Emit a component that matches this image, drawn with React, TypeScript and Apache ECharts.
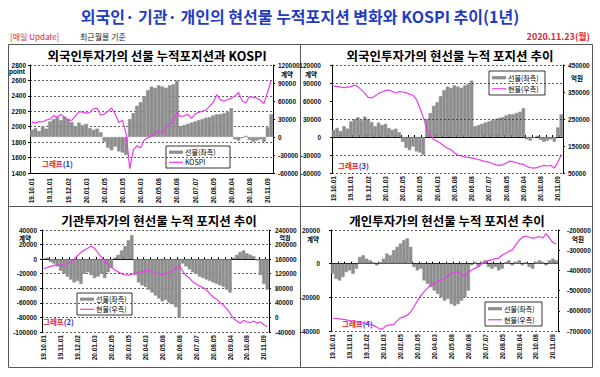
import React, { useEffect, useRef } from 'react';
import * as echarts from 'echarts';

const dates = [
  '19.10.01', '19.10.08', '19.10.14', '19.10.18', '19.10.25',
  '19.11.01', '19.11.07', '19.11.13', '19.11.19', '19.11.25',
  '19.12.02', '19.12.06', '19.12.12', '19.12.18', '19.12.24',
  '20.01.03', '20.01.09', '20.01.15', '20.01.21', '20.01.30',
  '20.02.05', '20.02.11', '20.02.17', '20.02.21', '20.02.27',
  '20.03.05', '20.03.11', '20.03.19', '20.03.25', '20.03.31',
  '20.04.03', '20.04.09', '20.04.16', '20.04.22', '20.04.28',
  '20.05.08', '20.05.14', '20.05.20', '20.05.26', '20.06.01',
  '20.06.08', '20.06.12', '20.06.18', '20.06.24', '20.06.30',
  '20.07.07', '20.07.13', '20.07.17', '20.07.23', '20.07.29',
  '20.08.05', '20.08.11', '20.08.18', '20.08.24', '20.08.28',
  '20.09.04', '20.09.10', '20.09.16', '20.09.22', '20.09.28',
  '20.10.08', '20.10.14', '20.10.20', '20.10.26', '20.11.02',
  '20.11.09', '20.11.23',
];

const tickLabels = [
  '19.10.01', '19.11.01', '19.12.02', '20.01.03', '20.02.05', '20.03.05', '20.04.03',
  '20.05.08', '20.06.08', '20.07.07', '20.08.05', '20.09.04', '20.10.08', '20.11.09',
];

// 외국인 선물 누적 (계약)
const foreignFutures = [
  12000, 15000, 10000, 18000, 14000,
  26000, 30000, 33000, 28000, 34000,
  30000, 25000, 18000, 24000, 20000,
  22000, 15000, 12000, 14000, 8000,
  -8000, -18000, -22000, -16000, -24000,
  -26000, -30000, 30000, 40000, 52000,
  58000, 68000, 78000, 84000, 82000,
  86000, 84000, 82000, 86000, 88000,
  94000, 18000, 20000, 22000, 24000,
  26000, 28000, 30000, 32000, 33000,
  36000, 38000, 38000, 40000, 42000,
  48000, -4000, -6000, -2000, 2000,
  -5000, -8000, -6000, -4000, -8000,
  16000, 38000,
];

// KOSPI (point)
const kospi = [
  2063, 2046, 2067, 2061, 2086,
  2100, 2144, 2122, 2160, 2122,
  2091, 2081, 2137, 2195, 2190,
  2176, 2186, 2231, 2239, 2148,
  2165, 2201, 2242, 2162, 2054,
  2085, 1908, 1457, 1704, 1754,
  1725, 1827, 1857, 1879, 1922,
  1945, 1924, 1989, 2029, 2065,
  2184, 2132, 2141, 2161, 2108,
  2164, 2186, 2201, 2216, 2263,
  2311, 2418, 2348, 2330, 2353,
  2368, 2397, 2443, 2333, 2308,
  2391, 2380, 2370, 2343, 2300,
  2447, 2602,
];

// 외국인 현물 누적 (억원)
const foreignSpot = [
  372000, 370000, 368000, 366000, 368000,
  370000, 376000, 370000, 358000, 345000,
  330000, 328000, 335000, 345000, 350000,
  355000, 358000, 352000, 346000, 352000,
  350000, 348000, 342000, 338000, 322000,
  290000, 255000, 215000, 190000, 175000,
  168000, 160000, 150000, 142000, 136000,
  125000, 116000, 113000, 110000, 108000,
  106000, 103000, 100000, 96000, 92000,
  90000, 86000, 80000, 78000, 80000,
  86000, 94000, 92000, 88000, 84000,
  82000, 74000, 70000, 68000, 70000,
  75000, 78000, 76000, 78000, 68000,
  90000, 118000,
];

// 기관 선물 누적 (계약)
const instFutures = [
  1000, 2000, -4000, -6000, -10000,
  -16000, -20000, -24000, -28000, -32000,
  -30000, -34000, -20000, -18000, -22000,
  -26000, -24000, -20000, -26000, -18000,
  -12000, 2000, 6000, 12000, 18000,
  26000, 33000, -22000, -32000, -36000,
  -38000, -42000, -46000, -50000, -54000,
  -58000, -56000, -60000, -62000, -66000,
  -80000, -6000, -10000, -14000, -18000,
  -20000, -24000, -26000, -28000, -30000,
  -32000, -34000, -36000, -38000, -42000,
  -46000, 2000, 6000, 10000, 12000,
  8000, 6000, 4000, -2000, -22000,
  -34000, -42000,
];

// 기관 현물 누적 (억원)
const instSpot = [
  134000, 137000, 140000, 143000, 144000,
  143000, 144000, 148000, 152000, 160000,
  170000, 178000, 185000, 190000, 196000,
  190000, 178000, 165000, 156000, 144000,
  138000, 130000, 125000, 120000, 117000,
  116000, 118000, 122000, 124000, 125000,
  128000, 130000, 126000, 122000, 120000,
  118000, 120000, 124000, 128000, 134000,
  143000, 128000, 115000, 108000, 98000,
  92000, 86000, 82000, 76000, 66000,
  56000, 50000, 42000, 34000, 24000,
  12000, -3000, -10000, -16000, -8000,
  -12000, -14000, -10000, -16000, -12000,
  -20000, -26000,
];

// 개인 선물 누적 (계약)
const indivFutures = [
  -6000, -9000, -10000, -8000, -5000,
  -4000, -6000, -3000, 4000, 5000,
  3000, 2000, 1000, -1000, 1000,
  3000, 6000, 5000, 8000, 10000,
  12000, 14000, 15000, 10000, -2000,
  -4000, -3000, -10000, -12000, -14000,
  -16000, -18000, -20000, -22000, -21000,
  -24000, -25000, -24000, -22000, -20000,
  -16000, -1000, 1000, -2000, 1000,
  2000, -2000, -3000, -2000, -4000,
  -3000, 1000, 2000, -1000, 1000,
  2000, -1000, 1000, -2000, -3000,
  1000, 2000, 1000, -1000, 2000,
  3000, 2000,
];

// 개인 현물 누적 (억원)
const indivSpot = [
  -637000, -638000, -640000, -642000, -645000,
  -648000, -650000, -654000, -658000, -660000,
  -662000, -668000, -672000, -680000, -692000,
  -685000, -672000, -670000, -668000, -650000,
  -635000, -630000, -622000, -605000, -580000,
  -550000, -525000, -505000, -488000, -472000,
  -465000, -455000, -448000, -440000, -428000,
  -415000, -410000, -406000, -418000, -432000,
  -410000, -398000, -390000, -380000, -368000,
  -357000, -350000, -348000, -342000, -340000,
  -325000, -315000, -306000, -298000, -275000,
  -252000, -235000, -230000, -236000, -240000,
  -238000, -232000, -240000, -218000, -240000,
  -262000, -269000,
];

const panel2RightLabels = [50000, 150000, 250000, 350000, 450000];
const panel2GridLevels = [120000, 90000, 30000, -30000, -60000];

const KR = "'Noto Sans CJK KR', sans-serif";
const NUM = "'Liberation Sans', Arial, sans-serif";
const BAR = '#8e8e8e';
const LINE = '#ea3cea';

function labelAxis(gridIndex: number, showLine: boolean, margin: number) {
  return {
    type: 'category', gridIndex, data: dates, position: 'bottom', boundaryGap: true,
    axisLine: { show: showLine, onZero: false, lineStyle: { color: '#000', width: 1 } },
    axisTick: { show: false },
    axisLabel: {
      rotate: 90, margin, fontSize: 6.5, fontWeight: 'bold', color: '#111', fontFamily: NUM,
      interval: (_i: number, v: string) => tickLabels.includes(v),
    },
    splitLine: { show: false },
  };
}

function zeroAxis(gridIndex: number) {
  return {
    type: 'category', gridIndex, data: dates, position: 'bottom', boundaryGap: true,
    axisLine: { show: true, onZero: true, lineStyle: { color: '#000', width: 1 } },
    axisTick: { show: true, inside: true, length: 2, interval: 1, lineStyle: { color: '#000' } },
    axisLabel: { show: false },
    splitLine: { show: false },
  };
}

function yAxisDef(gridIndex: number, position: string, min: number, max: number, interval: number | undefined, margin: number, split: boolean, custom?: number[]) {
  const label: any = { fontSize: 6.5, fontWeight: 'bold', color: '#111', margin, fontFamily: NUM, formatter: (v: number) => String(v) };
  const tick: any = { show: true, length: 2, lineStyle: { color: '#000' } };
  if (custom) { label.customValues = custom; tick.customValues = custom; }
  const ax: any = {
    type: 'value', gridIndex, position, min, max,
    axisLine: { show: true, lineStyle: { color: '#000', width: 1 } },
    axisTick: tick,
    axisLabel: label,
    splitLine: { show: split, lineStyle: { type: [2, 2], color: '#333', width: 0.8 } },
  };
  if (interval !== undefined) ax.interval = interval;
  return ax;
}

function txt(x: number, y: number, text: string, size: number, opts: any = {}) {
  return {
    type: 'text', x, y, silent: true,
    style: {
      text, fill: opts.fill || '#000', fontSize: size, fontWeight: opts.weight || 'normal',
      fontFamily: opts.font || KR,
      textAlign: opts.align || 'left', align: opts.align || 'left',
      textVerticalAlign: 'middle', verticalAlign: 'middle',
    },
  };
}

function legendBox(x: number, y: number, w: number, h: number, second: string) {
  const y1 = y + h * 0.28;
  const y2 = y + h * 0.74;
  return [
    { type: 'rect', silent: true, shape: { x, y, width: w, height: h }, style: { fill: '#fff', stroke: '#000', lineWidth: 0.8 } },
    { type: 'rect', silent: true, shape: { x: x + 3, y: y1 - 1.6, width: 14, height: 3.2 }, style: { fill: BAR } },
    txt(x + 19, y1, '선물(좌측)', 7),
    { type: 'line', silent: true, shape: { x1: x + 3, y1: y2, x2: x + 17, y2: y2 }, style: { stroke: LINE, lineWidth: 1.2 } },
    txt(x + 19, y2, second, 7),
  ];
}

function graphLabel(x: number, y: number, n: string) {
  return {
    type: 'text', x, y, silent: true,
    style: {
      text: '{r|그래프}{b|(' + n + ')}',
      textVerticalAlign: 'middle', verticalAlign: 'middle',
      rich: {
        r: { fill: '#e8202a', color: '#e8202a', fontSize: 7.5, fontWeight: 'bold', fontFamily: KR },
        b: { fill: '#2233cc', color: '#2233cc', fontSize: 7.5, fontWeight: 'bold', fontFamily: KR },
      },
    },
  };
}

const barStyle = { color: BAR, borderColor: BAR, borderWidth: 0.6 };

export default function App() {
  const ref = useRef<HTMLDivElement>(null);
  useEffect(() => {
    if (!ref.current) return;
    const chart = echarts.init(ref.current, undefined, { renderer: 'svg' });
    const gridLevels = panel2GridLevels.map((v) => ({ yAxis: v }));
    const option: any = {
      animation: false,
      backgroundColor: '#fff',
      textStyle: { fontFamily: NUM },
      grid: [
        { left: 30, top: 65, width: 243, height: 108 },
        { left: 332, top: 65, width: 231, height: 108 },
        { left: 42, top: 230, width: 227, height: 102 },
        { left: 331, top: 230, width: 227, height: 101 },
      ],
      xAxis: [
        labelAxis(0, true, 5),
        labelAxis(1, false, 3),
        zeroAxis(1),
        labelAxis(2, false, 3),
        zeroAxis(2),
        labelAxis(3, false, 3),
        zeroAxis(3),
      ],
      yAxis: [
        yAxisDef(0, 'left', 1400, 2800, 200, 4, true),
        yAxisDef(0, 'right', -60000, 120000, 30000, 5, false),
        yAxisDef(1, 'left', -60000, 120000, 30000, 11, false),
        yAxisDef(1, 'right', 50000, 450000, undefined, 5, false, panel2RightLabels),
        yAxisDef(2, 'left', -100000, 40000, 20000, 5, true),
        yAxisDef(2, 'right', -40000, 240000, 40000, 6, false),
        yAxisDef(3, 'left', -40000, 20000, 20000, 11, true),
        yAxisDef(3, 'right', -700000, -200000, 100000, 9, false),
      ],
      series: [
        { type: 'bar', name: '선물(좌측)', xAxisIndex: 0, yAxisIndex: 1, data: foreignFutures, barCategoryGap: '0%', itemStyle: barStyle },
        { type: 'line', name: 'KOSPI', xAxisIndex: 0, yAxisIndex: 0, data: kospi, showSymbol: false, lineStyle: { color: LINE, width: 1.2 }, itemStyle: { color: LINE } },
        {
          type: 'bar', name: '선물(좌측)', xAxisIndex: 1, yAxisIndex: 2, data: foreignFutures, barCategoryGap: '0%', itemStyle: barStyle,
          markLine: { silent: true, symbol: ['none', 'none'], label: { show: false }, lineStyle: { type: [2, 2], color: '#333', width: 0.8 }, data: gridLevels },
        },
        { type: 'line', name: '현물(우측)', xAxisIndex: 1, yAxisIndex: 3, data: foreignSpot, showSymbol: false, lineStyle: { color: LINE, width: 1.2 }, itemStyle: { color: LINE } },
        { type: 'bar', name: '선물(좌측)', xAxisIndex: 3, yAxisIndex: 4, data: instFutures, barCategoryGap: '0%', itemStyle: barStyle },
        { type: 'line', name: '현물(우측)', xAxisIndex: 3, yAxisIndex: 5, data: instSpot, showSymbol: false, lineStyle: { color: LINE, width: 1.2 }, itemStyle: { color: LINE } },
        { type: 'bar', name: '선물(좌측)', xAxisIndex: 5, yAxisIndex: 6, data: indivFutures, barCategoryGap: '0%', itemStyle: barStyle },
        { type: 'line', name: '현물(우측)', xAxisIndex: 5, yAxisIndex: 7, data: indivSpot, showSymbol: false, lineStyle: { color: LINE, width: 1.2 }, itemStyle: { color: LINE } },
      ],
      graphic: {
        elements: [
          { type: 'rect', silent: true, shape: { x: 8.5, y: 44.5, width: 584, height: 323 }, style: { fill: 'none', stroke: '#555', lineWidth: 1 } },
          { type: 'line', silent: true, shape: { x1: 300.5, y1: 44.5, x2: 300.5, y2: 367.5 }, style: { stroke: '#555', lineWidth: 1 } },
          { type: 'line', silent: true, shape: { x1: 8.5, y1: 206.5, x2: 592.5, y2: 206.5 }, style: { stroke: '#555', lineWidth: 1 } },
          txt(300, 16, '외국인· 기관· 개인의 현선물 누적포지션 변화와 KOSPI 추이(1년)', 16, { align: 'center', weight: 'bold', fill: '#1f3cc4' }),
          txt(10, 36, '[매일 Update]', 8, { fill: '#e8202a' }),
          txt(80, 36, '최근월물 기준', 8, { fill: '#222' }),
          txt(590, 36, '2020.11.23(월)', 9, { align: 'right', weight: 'bold', fill: '#e8202a' }),
          txt(157, 55, '외국인투자가의 선물 누적포지션과 KOSPI', 12.5, { align: 'center', weight: 'bold' }),
          txt(450, 55, '외국인투자가의 현선물 누적 포지션 추이', 12.5, { align: 'center', weight: 'bold' }),
          txt(159, 220, '기관투자가의 현선물 누적 포지션 추이', 12.5, { align: 'center', weight: 'bold' }),
          txt(447, 220, '개인투자가의 현선물 누적 포지션 추이', 12.5, { align: 'center', weight: 'bold' }),
          txt(17, 71.5, 'point', 6.5, { align: 'center', weight: 'bold', font: NUM }),
          txt(287, 73.5, '계약', 6.5, { align: 'center', weight: 'bold' }),
          txt(311, 74, '계약', 6.5, { align: 'center', weight: 'bold' }),
          txt(577, 78, '억원', 6.5, { align: 'center', weight: 'bold' }),
          txt(25, 237.5, '계약', 6.5, { align: 'center', weight: 'bold' }),
          txt(285, 237, '억원', 6, { align: 'center', weight: 'bold' }),
          txt(313, 238.5, '계약', 6.5, { align: 'center', weight: 'bold' }),
          txt(578, 238.5, '억원', 6.5, { align: 'center', weight: 'bold' }),
          graphLabel(42, 163.5, '1'),
          graphLabel(338, 165, '3'),
          graphLabel(43, 321, '2'),
          graphLabel(342, 323, '4'),
          ...legendBox(166, 146, 64, 22, 'KOSPI'),
          ...legendBox(489, 71, 56, 24, '현물(우측)'),
          ...legendBox(77, 293, 55, 22, '현물(우측)'),
          ...legendBox(485, 302, 57, 24, '현물(우측)'),
        ],
      },
    };
    chart.setOption(option);
    return () => chart.dispose();
  }, []);
  return <div ref={ref} style={{ position: 'absolute', left: 0, top: 0, width: 600, height: 377, background: '#fff' }} />;
}
